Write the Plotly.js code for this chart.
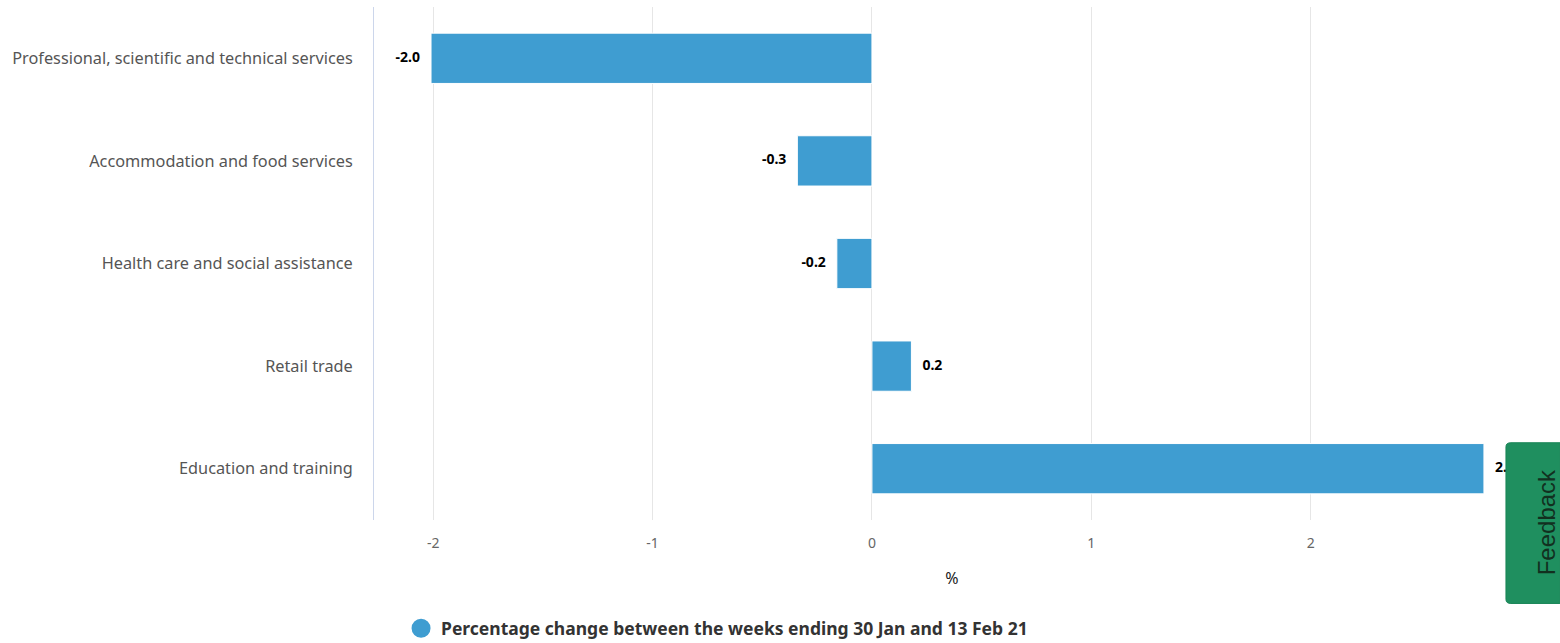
<!DOCTYPE html>
<html><head><meta charset="utf-8">
<script src="https://cdn.plot.ly/plotly-3.0.1.min.js"></script>
<style>html,body{margin:0;padding:0;background:#fff}#chart{width:1560px;height:643px}</style>
</head><body><div id="chart"></div>
<script>
const categories = ["Professional, scientific and technical services","Accommodation and food services","Health care and social assistance","Retail trade","Education and training"];
const values = [-2.01, -0.34, -0.16, 0.18, 2.79];
const seriesName = "Percentage change between the weeks ending 30 Jan and 13 Feb 21";
const xTicks = [-2, -1, 0, 1, 2, 3];
const barColor = "#3f9dd1";
const font = "Noto Sans, Open Sans, sans-serif";

const bar = {
  type: "bar", orientation: "h", x: values, y: categories,
  marker: {color: barColor, line: {color: "#ffffff", width: 1}},
  showlegend: false, hoverinfo: "x+y"
};
const labels = {
  type: "scatter", mode: "markers+text", x: values, y: categories,
  text: values.map(v => "<b>" + v.toFixed(1) + "</b>"),
  textposition: values.map(v => v < 0 ? "middle left" : "middle right"),
  textfont: {family: font, size: 14, color: "#000"},
  marker: {size: 16, opacity: 0, color: barColor},
  cliponaxis: false, showlegend: false, hoverinfo: "skip"
};
const legendTrace = {
  type: "scatter", mode: "markers", x: [null], y: [null], name: seriesName,
  marker: {color: barColor, size: 16, symbol: "circle", line: {color: barColor, width: 3}}, showlegend: true
};

const layout = {
  width: 1560, height: 643,
  margin: {l: 374, r: 30, t: 7, b: 123, autoexpand: false},
  paper_bgcolor: "#fff", plot_bgcolor: "#fff",
  font: {family: font},
  bargap: 0.51,
  xaxis: {
    range: [-2.27, 3.0], tickvals: xTicks, ticktext: xTicks.map(String),
    showgrid: true, gridcolor: "#e6e6e6", zeroline: true, zerolinecolor: "#e6e6e6", zerolinewidth: 1,
    tickfont: {size: 14, color: "#666"}, ticks: "", ticklabelstandoff: 13,
    title: {text: "%", font: {size: 16, color: "#222"}, standoff: 21},
    showline: false, fixedrange: true, automargin: false
  },
  yaxis: {
    categoryorder: "array", categoryarray: categories,
    autorange: "reversed",
    showline: true, linecolor: "#ccd6eb", linewidth: 1,
    tickfont: {size: 16.3, color: "#555"}, ticks: "", ticklabelstandoff: 17,
    showgrid: false, zeroline: false, fixedrange: true, automargin: false
  },
  legend: {
    orientation: "h", x: 0.0234, xanchor: "left", y: -0.2114, yanchor: "middle",
    font: {size: 17.5, color: "#333", family: font, weight: "bold"},
    itemsizing: "trace"
  },
  shapes: [{
    type: "path", xref: "paper", yref: "paper", layer: "above",
    path: "M 0.9835,0.1506 L 1.0259,0.1506 L 1.0259,-0.1627 L 0.9835,-0.1627 Q 0.9792,-0.1627 0.9792,-0.1549 L 0.9792,0.1428 Q 0.9792,0.1506 0.9835,0.1506 Z",
    fillcolor: "#1f8f5f", line: {color: "#1a8457", width: 1}
  }],
  annotations: [{
    xref: "paper", yref: "paper", x: 1.0145, y: -0.005, xanchor: "center", yanchor: "middle",
    text: "Feedback",
    showarrow: false, textangle: -90, font: {family: "Liberation Sans, Arial, sans-serif", size: 24, color: "#12301f"}
  }]
};

Plotly.newPlot("chart", [bar, labels, legendTrace], layout, {displayModeBar: false, staticPlot: true});
</script></body></html>
